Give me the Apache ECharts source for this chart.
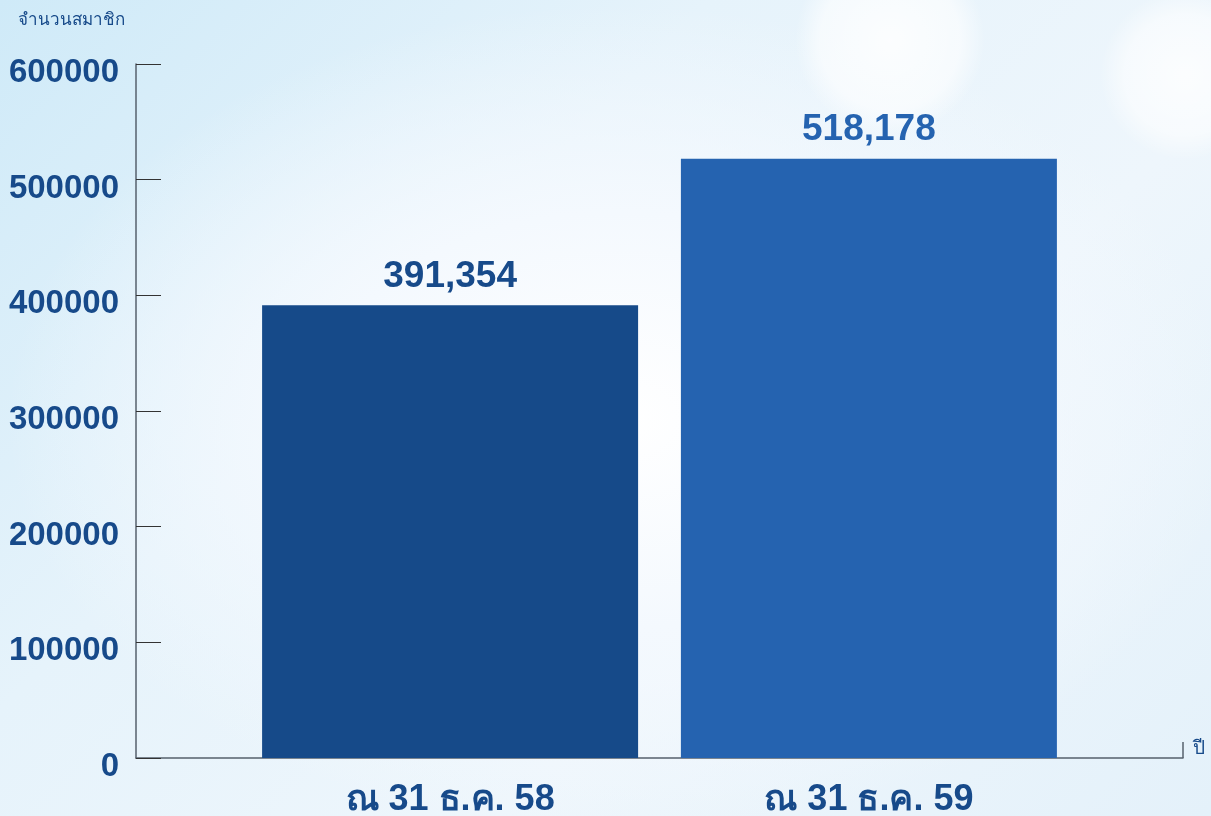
<!DOCTYPE html>
<html>
<head>
<meta charset="utf-8">
<script src="https://cdn.jsdelivr.net/npm/echarts@6/dist/echarts.min.js"></script>
<style>
html, body { margin: 0; padding: 0; }
body {
	width: 1211px; height: 816px; overflow: hidden;
	background:
		radial-gradient(circle at 890px 40px, rgba(255,255,255,0.85) 0, rgba(255,255,255,0.6) 70px, rgba(255,255,255,0) 95px),
		radial-gradient(circle at 1185px 75px, rgba(255,255,255,0.8) 0, rgba(255,255,255,0.55) 60px, rgba(255,255,255,0) 85px),
		radial-gradient(ellipse at 620px 420px, #ffffff 0, #f4f9fe 35%, rgba(235,245,252,0) 70%),
		linear-gradient(135deg, #cfeaf8 0%, #e6f3fb 35%, #eef6fc 65%, #e4f1fa 100%);
}
#chart { width: 1211px; height: 816px; }
</style>
</head>
<body>
<div id="chart"></div>
<script>
const categories = ['ณ 31 ธ.ค. 58', 'ณ 31 ธ.ค. 59'];
const members = [391354, 518178];
const yTicks = [0, 100000, 200000, 300000, 400000, 500000, 600000];

const barColors = ['#164a89', '#2563b0'];
const labelColors = ['#174a8a', '#2563b0'];
const font = "'Liberation Sans', Arial, sans-serif";

// bars sit at 30% and 70% of the x axis span
const slots = [3, 7];

const chart = echarts.init(document.getElementById('chart'), null, { renderer: 'canvas' });

chart.setOption({
	backgroundColor: 'transparent',
	textStyle: { fontFamily: font },
	title: {
		text: 'จำนวนสมาชิก',
		left: 13, top: 7,
		textStyle: { color: '#174a8a', fontSize: 17, fontWeight: 'normal', fontFamily: font }
	},
	grid: { left: 136, right: 28, top: 64, bottom: 58, outerBoundsMode: 'none', containLabel: false },
	xAxis: {
		type: 'value',
		min: 0, max: 10,
		splitLine: { show: false },
		axisLine: { show: true, lineStyle: { color: '#56606c', width: 1.5 } },
		axisTick: { show: true, inside: true, length: 16, customValues: [10], lineStyle: { color: '#56606c', width: 1.5 } },
		axisLabel: {
			show: true,
			customValues: slots,
			margin: 24,
			color: '#174a8a',
			fontSize: 36,
			fontWeight: 'bold',
			fontFamily: font,
			formatter: v => categories[slots.indexOf(v)] || ''
		},
		name: 'ปี',
		nameLocation: 'end',
		nameGap: 10,
		nameTextStyle: { color: '#174a8a', fontSize: 19, fontFamily: font, verticalAlign: 'bottom' }
	},
	yAxis: {
		type: 'value',
		min: yTicks[0], max: yTicks[yTicks.length - 1], interval: yTicks[1] - yTicks[0],
		splitLine: { show: false },
		axisLine: { show: true, lineStyle: { color: '#56606c', width: 1.5 } },
		axisTick: { show: true, inside: true, length: 25, lineStyle: { color: '#333', width: 1 } },
		axisLabel: {
			margin: 17,
			formatter: v => '{v|' + v + '}',
			rich: {
				v: {
					color: '#174a8a',
					fontSize: 33,
					fontWeight: 'bold',
					fontFamily: font,
					padding: [18, 0, 0, 0]
				}
			}
		}
	},
	series: [{
		type: 'bar',
		barWidth: 376,
		animation: false,
		data: members.map((v, i) => ({
			value: [slots[i], v],
			itemStyle: { color: barColors[i] },
			label: { color: labelColors[i] }
		})),
		label: {
			show: true,
			position: 'top',
			distance: 10,
			fontSize: 37,
			fontWeight: 'bold',
			fontFamily: font,
			formatter: p => p.value[1].toLocaleString('en-US')
		}
	}]
});
</script>
</body>
</html>
